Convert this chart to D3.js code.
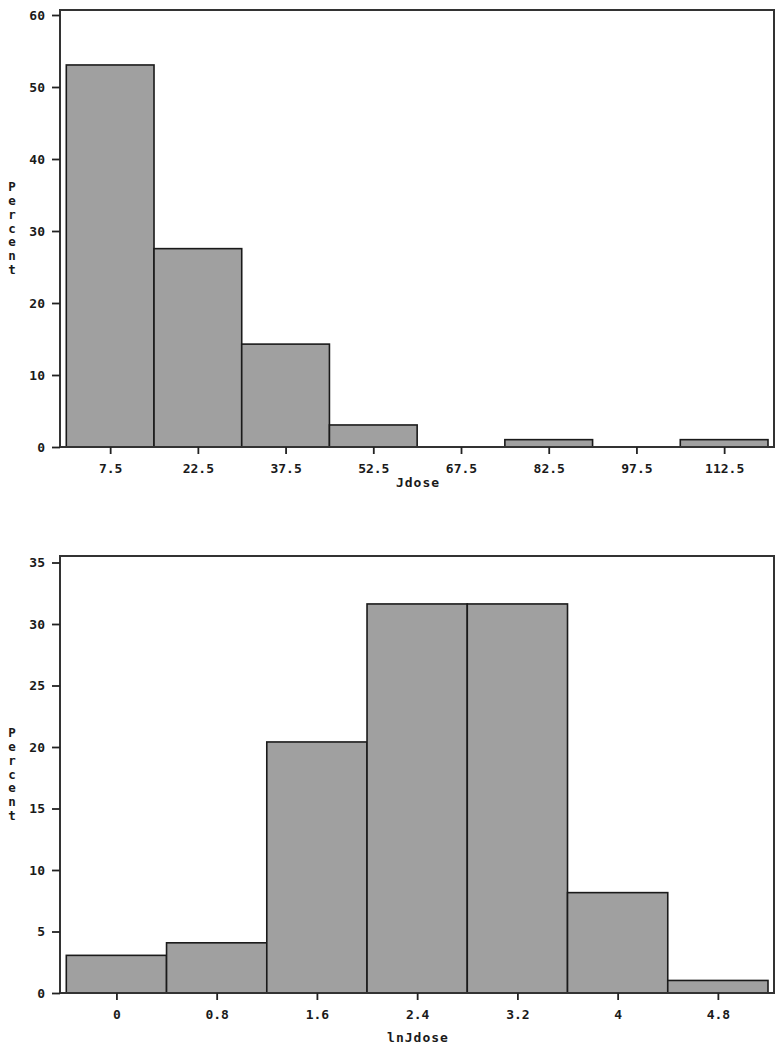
<!DOCTYPE html>
<html>
<head>
<meta charset="utf-8">
<script src="https://cdn.jsdelivr.net/npm/d3@7"></script>
<style>
  html, body { margin: 0; padding: 0; background: #fff; }
  svg text { font-family: "DejaVu Sans Mono", "Liberation Mono", monospace; fill: #1a1a1a; }
</style>
</head>
<body>
<svg id="chart" width="783" height="1050"></svg>
<script>
// ---- Data ----
const jdoseMidpoints = [7.5, 22.5, 37.5, 52.5, 67.5, 82.5, 97.5, 112.5];
const jdosePercent   = [53.06, 27.55, 14.29, 3.06, 0, 1.02, 0, 1.02];
const jdoseYTicks    = [0, 10, 20, 30, 40, 50, 60];
const jdoseBinWidth  = 15;

const lnMidpoints = [0, 0.8, 1.6, 2.4, 3.2, 4, 4.8];
const lnPercent   = [3.06, 4.08, 20.41, 31.63, 31.63, 8.16, 1.02];
const lnYTicks    = [0, 5, 10, 15, 20, 25, 30, 35];
const lnBinWidth  = 0.8;

const yLabel = "Percent";

const svg = d3.select("#chart");

function histogram(cfg) {
  const g = svg.append("g");
  const x = d3.scaleLinear().domain(cfg.xDomain).range([cfg.left + 6.3, cfg.right - 6]);
  const y = d3.scaleLinear().domain(cfg.yDomain).range([cfg.bottom, cfg.yTopPx]);

  // bars
  g.selectAll("rect.bar").data(cfg.mids.map((m, i) => ({m, v: cfg.vals[i]})).filter(d => d.v > 0))
    .enter().append("rect")
    .attr("class", "bar")
    .attr("x", d => x(d.m - cfg.bw / 2))
    .attr("width", d => x(d.m + cfg.bw / 2) - x(d.m - cfg.bw / 2))
    .attr("y", d => y(d.v))
    .attr("height", d => y(0) - y(d.v))
    .attr("fill", "#a0a0a0")
    .attr("stroke", "#1a1a1a")
    .attr("stroke-width", 1.6);

  // frame
  g.append("rect")
    .attr("x", cfg.left).attr("y", cfg.top)
    .attr("width", cfg.right - cfg.left).attr("height", cfg.bottom - cfg.top)
    .attr("fill", "none").attr("stroke", "#333").attr("stroke-width", 2);

  // y axis
  const yAxis = d3.axisLeft(y).tickValues(cfg.yTicks).tickSize(8).tickPadding(7).tickFormat(d3.format("d"));
  const ya = g.append("g").attr("transform", `translate(${cfg.left},0)`).call(yAxis);
  ya.select(".domain").remove();
  ya.selectAll(".tick line").attr("stroke", "#222").attr("stroke-width", 1.8);
  ya.selectAll(".tick text").attr("font-size", 13).attr("font-weight", "bold").attr("fill", "#1a1a1a");

  // x axis
  const xAxis = d3.axisBottom(x).tickValues(cfg.mids).tickSize(7).tickPadding(10)
    .tickFormat(d => cfg.fmt(d));
  const xa = g.append("g").attr("transform", `translate(0,${cfg.bottom})`).call(xAxis);
  xa.select(".domain").remove();
  xa.selectAll(".tick line").attr("stroke", "#222").attr("stroke-width", 1.8);
  xa.selectAll(".tick text").attr("font-size", 13).attr("font-weight", "bold").attr("fill", "#1a1a1a");

  // x label
  g.append("text")
    .attr("x", (cfg.left + cfg.right) / 2 + 1)
    .attr("y", cfg.bottom + cfg.xLabelOffset)
    .attr("text-anchor", "middle")
    .attr("font-size", 13).attr("font-weight", "bold")
    .attr("letter-spacing", 1)
    .text(cfg.xLabel);

  // y label, stacked letters
  const letters = yLabel.split("");
  const cy = (cfg.top + cfg.bottom) / 2;
  const step = 13.7;
  g.append("g").selectAll("text").data(letters).enter().append("text")
    .attr("x", 12)
    .attr("y", (d, i) => cy + (i - (letters.length - 1) / 2) * step + 4)
    .attr("text-anchor", "middle")
    .attr("font-size", 12.5).attr("font-weight", "bold")
    .text(d => d);
}

histogram({
  mids: jdoseMidpoints, vals: jdosePercent, bw: jdoseBinWidth,
  xDomain: [0, 120], left: 60, right: 774,
  yDomain: [0, 60], yTicks: jdoseYTicks,
  top: 10, bottom: 447, yTopPx: 15,
  fmt: d => String(d),
  xLabel: "Jdose", xLabelOffset: 40
});

histogram({
  mids: lnMidpoints, vals: lnPercent, bw: lnBinWidth,
  xDomain: [-0.4, 5.2], left: 60, right: 774,
  yDomain: [0, 35], yTicks: lnYTicks,
  top: 556, bottom: 993, yTopPx: 562.5,
  fmt: d => String(d),
  xLabel: "lnJdose", xLabelOffset: 49
});
</script>
</body>
</html>
